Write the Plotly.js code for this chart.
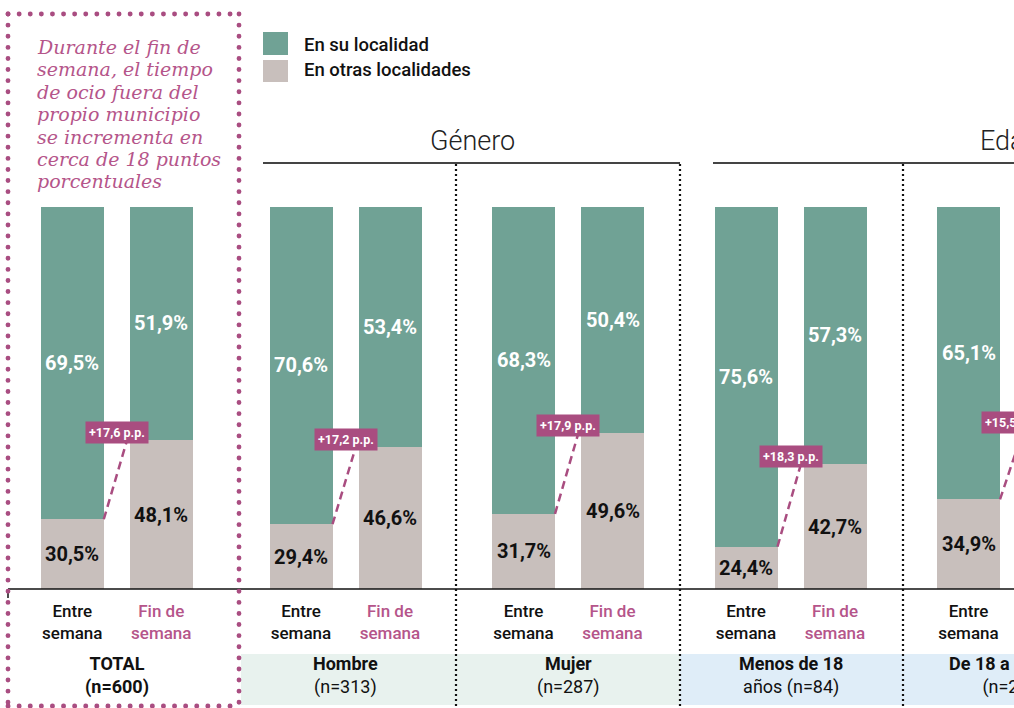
<!DOCTYPE html>
<html><head><meta charset="utf-8">
<script src="https://cdn.plot.ly/plotly-3.0.1.min.js"></script>
<style>html,body{margin:0;padding:0;background:#fff}#chart{width:1014px;height:708px}</style>
</head><body><div id="chart"></div>
<script>
// ---- data ----
const groups = ['TOTAL', 'Hombre', 'Mujer', 'Menos de 18 años', 'De 18 a 24 años'];
const groupLine1 = ['TOTAL', 'Hombre', 'Mujer', 'Menos de 18', 'De 18 a 24 años'];
const groupLine2 = ['(n=600)', '(n=313)', '(n=287)', 'años (n=84)', '(n=248)'];
const periods = ['Entre semana', 'Fin de semana'];
const periodTicks = ['Entre<br>semana', '<span style="color:#b5558a">Fin de</span><br><span style="color:#b5558a">semana</span>'];
const suLocalidadEntre = [69.5, 70.6, 68.3, 75.6, 65.1];
const suLocalidadFin   = [51.9, 53.4, 50.4, 57.3, 49.6];
const otrasEntre       = [30.5, 29.4, 31.7, 24.4, 34.9];
const otrasFin         = [48.1, 46.6, 49.6, 42.7, 50.4];
const seriesNames = ['En su localidad', 'En otras localidades'];
const headers = ['Género', 'Edad'];
const noteLines = ['Durante el fin de', 'semana, el tiempo', 'de ocio fuera del', 'propio municipio', 'se incrementa en', 'cerca de 18 puntos', 'porcentuales'];

// ---- style ----
const GREEN = '#70a295', GREY = '#c8bfbc', PINK = '#a94d80', PINKTXT = '#b5558a';
const W = 1014, H = 708;
const FONT = 'Roboto, "Noto Sans", sans-serif';
const px = x => x / W;
const py = y => 1 - y / H;
const YMIN = 15, YMAX = 100;
const UNIT = 89, X0 = 78.5;          // pixels per x unit, pixel of x=0
const BARW = 63 / UNIT;
const fmt = v => v.toFixed(1).replace('.', ',');

// positions (layout only, from indices)
const pos = (g, i) => 2.5 * g + i + (g === 0 ? -0.07 : 0);
const xs = [], yOtras = [], ySu = [], tickV = [], tickT = [];
groups.forEach((g, gi) => {
  [0, 1].forEach(i => {
    xs.push(pos(gi, i));
    yOtras.push(i === 0 ? otrasEntre[gi] : otrasFin[gi]);
    ySu.push(i === 0 ? suLocalidadEntre[gi] : suLocalidadFin[gi]);
    tickV.push(pos(gi, i));
    tickT.push(periodTicks[i]);
  });
});

const traces = [
  { type: 'bar', name: seriesNames[1], x: xs, y: yOtras, marker: { color: GREY, line: { width: 0 } }, width: BARW, hoverinfo: 'skip', showlegend: false },
  { type: 'bar', name: seriesNames[0], x: xs, y: ySu, marker: { color: GREEN, line: { width: 0 } }, width: BARW, hoverinfo: 'skip', showlegend: false }
];

const shapes = [], ann = [];
// bands behind group labels
shapes.push({ type: 'rect', xref: 'paper', yref: 'paper', x0: px(241), x1: px(680), y0: py(705), y1: py(654), fillcolor: '#e8f2ee', line: { width: 0 }, layer: 'below' });
shapes.push({ type: 'rect', xref: 'paper', yref: 'paper', x0: px(680), x1: 1, y0: py(705), y1: py(654), fillcolor: '#dfedf8', line: { width: 0 }, layer: 'below' });
// axis line + small tick
shapes.push({ type: 'line', xref: 'paper', yref: 'paper', x0: px(8), x1: 1, y0: py(589), y1: py(589), line: { color: '#111', width: 1.5 } });
shapes.push({ type: 'line', xref: 'paper', yref: 'paper', x0: px(8), x1: px(8), y0: py(589), y1: py(598), line: { color: '#111', width: 1.5 } });
// header lines
shapes.push({ type: 'line', xref: 'paper', yref: 'paper', x0: px(263), x1: px(680), y0: py(163), y1: py(163), line: { color: '#444', width: 2 } });
shapes.push({ type: 'line', xref: 'paper', yref: 'paper', x0: px(713), x1: 1, y0: py(163), y1: py(163), line: { color: '#444', width: 2 } });
// black dotted separators
[456, 680, 903].forEach(x => shapes.push({ type: 'line', xref: 'paper', yref: 'paper', x0: px(x), x1: px(x), y0: py(164), y1: py(707), line: { color: '#111', width: 2.2, dash: '2px,3px' } }));
// pink dotted box
const PD = '#a94d81';
[[8, 14, 239, 14], [8, 14, 8, 706], [239, 14, 239, 706], [8, 706, 239, 706]].forEach(s =>
  shapes.push({ type: 'line', xref: 'paper', yref: 'paper', x0: px(s[0]), y0: py(s[1]), x1: px(s[2]), y1: py(s[3]), line: { color: PD, width: 4.8, dash: '4px,7px' } }));

// legend
shapes.push({ type: 'rect', xref: 'paper', yref: 'paper', x0: px(263), x1: px(288), y0: py(55), y1: py(32), fillcolor: GREEN, line: { width: 0 } });
shapes.push({ type: 'rect', xref: 'paper', yref: 'paper', x0: px(263), x1: px(288), y0: py(82), y1: py(60), fillcolor: GREY, line: { width: 0 } });
ann.push({ xref: 'paper', yref: 'paper', x: px(302), y: py(45), xanchor: 'left', yanchor: 'middle', text: seriesNames[0], showarrow: false, font: { family: FONT, size: 18.5, color: '#111', weight: 500 } });
ann.push({ xref: 'paper', yref: 'paper', x: px(302), y: py(70), xanchor: 'left', yanchor: 'middle', text: seriesNames[1], showarrow: false, font: { family: FONT, size: 18.5, color: '#111', weight: 500 } });

// headers
ann.push({ xref: 'paper', yref: 'paper', x: px(472), y: py(141), xanchor: 'center', yanchor: 'middle', text: headers[0], showarrow: false, font: { family: FONT, size: 27, color: '#222', weight: 300 } });
ann.push({ xref: 'paper', yref: 'paper', x: px(978), y: py(141), xanchor: 'left', yanchor: 'middle', text: headers[1], showarrow: false, font: { family: FONT, size: 27, color: '#222', weight: 300 } });

// note text
noteLines.forEach((t, k) => ann.push({ xref: 'paper', yref: 'paper', x: px(35), y: py(47 + k * 22.4), xanchor: 'left', yanchor: 'middle', text: t, showarrow: false, font: { family: '"DejaVu Serif", serif', size: 19, color: PINKTXT, style: 'italic' } }));

// value labels, change labels, group labels
groups.forEach((g, gi) => {
  const xa = pos(gi, 0), xb = pos(gi, 1);
  const pairs = [[xa, otrasEntre[gi], suLocalidadEntre[gi]], [xb, otrasFin[gi], suLocalidadFin[gi]]];
  pairs.forEach(([x, o, s]) => {
    ann.push({ x: x, y: (o + YMAX) / 2, text: fmt(s) + '%', showarrow: false, font: { family: FONT, size: 20, color: '#fff', weight: 700 } });
    ann.push({ x: x, y: (o + YMIN) / 2, text: fmt(o) + '%', showarrow: false, font: { family: FONT, size: 20, color: '#111', weight: 700 } });
  });
  const diff = otrasFin[gi] - otrasEntre[gi];
  shapes.push({ type: 'line', xref: 'x', yref: 'y', x0: xa + BARW / 2, y0: otrasEntre[gi], x1: xb - BARW / 2 - 0.03, y1: otrasFin[gi], line: { color: PINK, width: 2.5, dash: '8px,5px' } });
  ann.push({ x: (xa + xb) / 2, y: otrasFin[gi], yanchor: 'bottom', yshift: -4, text: '+' + fmt(diff) + ' p.p.', showarrow: false, bgcolor: PINK, borderpad: 3, font: { family: FONT, size: 12.5, color: '#fff', weight: 700 } });
  const bold = gi === 0;
  const txt = bold ? '<b>' + groupLine1[gi] + '</b><br><b>' + groupLine2[gi] + '</b>'
                   : '<b>' + groupLine1[gi] + '</b><br>' + groupLine2[gi];
  ann.push({ x: (xa + xb) / 2, yref: 'paper', y: py(675), yanchor: 'middle', text: txt, showarrow: false, font: { family: FONT, size: 18, color: '#111', weight: 400 } });
});

const layout = {
  width: W, height: H, margin: { l: 0, r: 0, t: 0, b: 0 },
  paper_bgcolor: '#fff', plot_bgcolor: 'rgba(0,0,0,0)',
  barmode: 'stack', bargap: 0, showlegend: false,
  xaxis: { range: [-X0 / UNIT, (W - X0) / UNIT], domain: [0, 1], showgrid: false, zeroline: false, showline: false,
           tickmode: 'array', tickvals: tickV, ticktext: tickT, ticks: '', ticklabelstandoff: 10,
           tickfont: { family: FONT, size: 17, color: '#111', weight: 500 }, fixedrange: true },
  yaxis: { range: [YMIN, YMAX], domain: [py(589), py(206.5)], showgrid: false, zeroline: false, showline: false, showticklabels: false, fixedrange: true },
  shapes: shapes, annotations: ann
};

Plotly.newPlot('chart', traces, layout, { staticPlot: true }).then(() => {
  document.querySelectorAll('.shapelayer path').forEach(p => {
    const s = p.style.stroke.replace(/\s/g, '');
    if (s === 'rgb(169,77,129)') { p.style.strokeLinecap = 'round'; p.style.strokeDasharray = '0.1px,11px'; }
  });
});
</script></body></html>
